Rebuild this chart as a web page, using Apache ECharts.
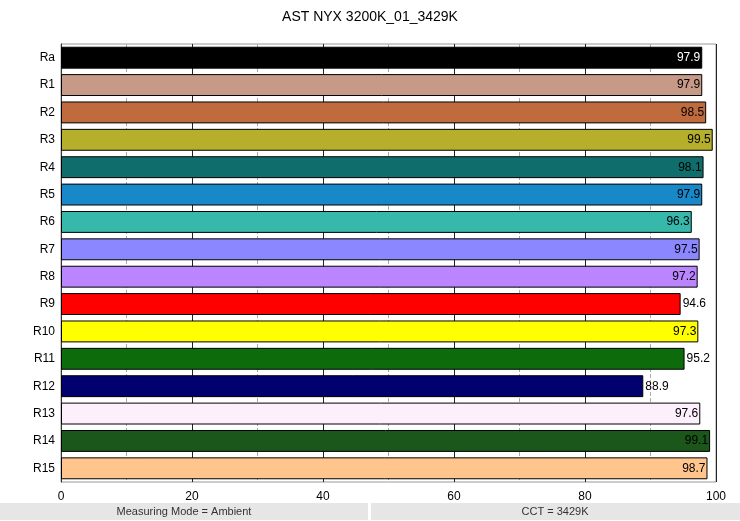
<!DOCTYPE html>
<html><head><meta charset="utf-8">
<script src="https://cdn.jsdelivr.net/npm/echarts@6/dist/echarts.min.js"></script>
<style>html,body{margin:0;padding:0;background:#fff}#c{width:740px;height:521px}</style>
</head><body><div id="c"></div>
<script>
const categories = ['Ra','R1','R2','R3','R4','R5','R6','R7','R8','R9','R10','R11','R12','R13','R14','R15'];
const values = [97.9,97.9,98.5,99.5,98.1,97.9,96.3,97.5,97.2,94.6,97.3,95.2,88.9,97.6,99.1,98.7];
const colors = ['#000000','#c69a86','#bf6b3d','#b5af2c','#0f6e6b','#1888c8','#36b8ab','#8a87ff','#ba85ff','#ff0000','#ffff00','#0d6b0b','#00006f','#feeffd','#1b561b','#ffc58d'];
const labelColors = ['#ffffff','#000','#000','#000','#000','#000','#000','#000','#000','#000','#000','#000','#000','#000','#000','#000'];
const titleText = 'AST NYX 3200K_01_3429K';
const footerLeft = 'Measuring Mode = Ambient';
const footerRight = 'CCT = 3429K';
const FONT = '"Liberation Sans", Helvetica, Arial, sans-serif';

const chart = echarts.init(document.getElementById('c'), null, {renderer:'canvas'});
const data = values.map((v,i)=>({
  value: v,
  itemStyle: {color: colors[i], borderColor:'#000', borderWidth:1},
  label: {show:true, position: v > 95.9 ? 'insideRight' : 'right', color: labelColors[i],
          distance: 2, fontSize: 12, fontFamily: FONT,
          formatter: p => p.value.toFixed(1)}
}));
chart.setOption({
  backgroundColor:'#fff',
  animation:false,
  title:{text:titleText, left:'center', top:5, textStyle:{fontSize:14, fontWeight:'normal', color:'#000', fontFamily:FONT}},
  grid:{left:61, right:24, top:44, bottom:39, show:true, borderColor:'#999', borderWidth:1, backgroundColor:'transparent'},
  xAxis:{type:'value', min:0, max:100, interval:20,
    axisLine:{show:false}, axisTick:{show:false},
    axisLabel:{color:'#000', fontSize:12, fontFamily:FONT, margin:9},
    splitLine:{show:true, lineStyle:{color:'#222', width:1}},
    minorTick:{show:false, splitNumber:2},
    minorSplitLine:{show:true, lineStyle:{color:'#aaa', type:'dashed', width:1}}
  },
  yAxis:{type:'category', data:categories, inverse:true,
    axisLine:{show:true, lineStyle:{color:'#333'}}, axisTick:{show:false},
    axisLabel:{color:'#000', fontSize:12, fontFamily:FONT, margin:6}},
  series:[{type:'bar', data:data, barCategoryGap:'20%'}],
  graphic:[
    {type:'rect', shape:{x:0,y:503,width:368,height:17}, style:{fill:'#e6e6e6'}},
    {type:'rect', shape:{x:371,y:503,width:369,height:17}, style:{fill:'#e6e6e6'}},
    {type:'text', x:184, y:511.5, style:{text:footerLeft, fill:'#333', fontSize:11, fontFamily:FONT, textAlign:'center', textVerticalAlign:'middle'}},
    {type:'text', x:555, y:511.5, style:{text:footerRight, fill:'#333', fontSize:11, fontFamily:FONT, textAlign:'center', textVerticalAlign:'middle'}}
  ]
});
</script></body></html>
